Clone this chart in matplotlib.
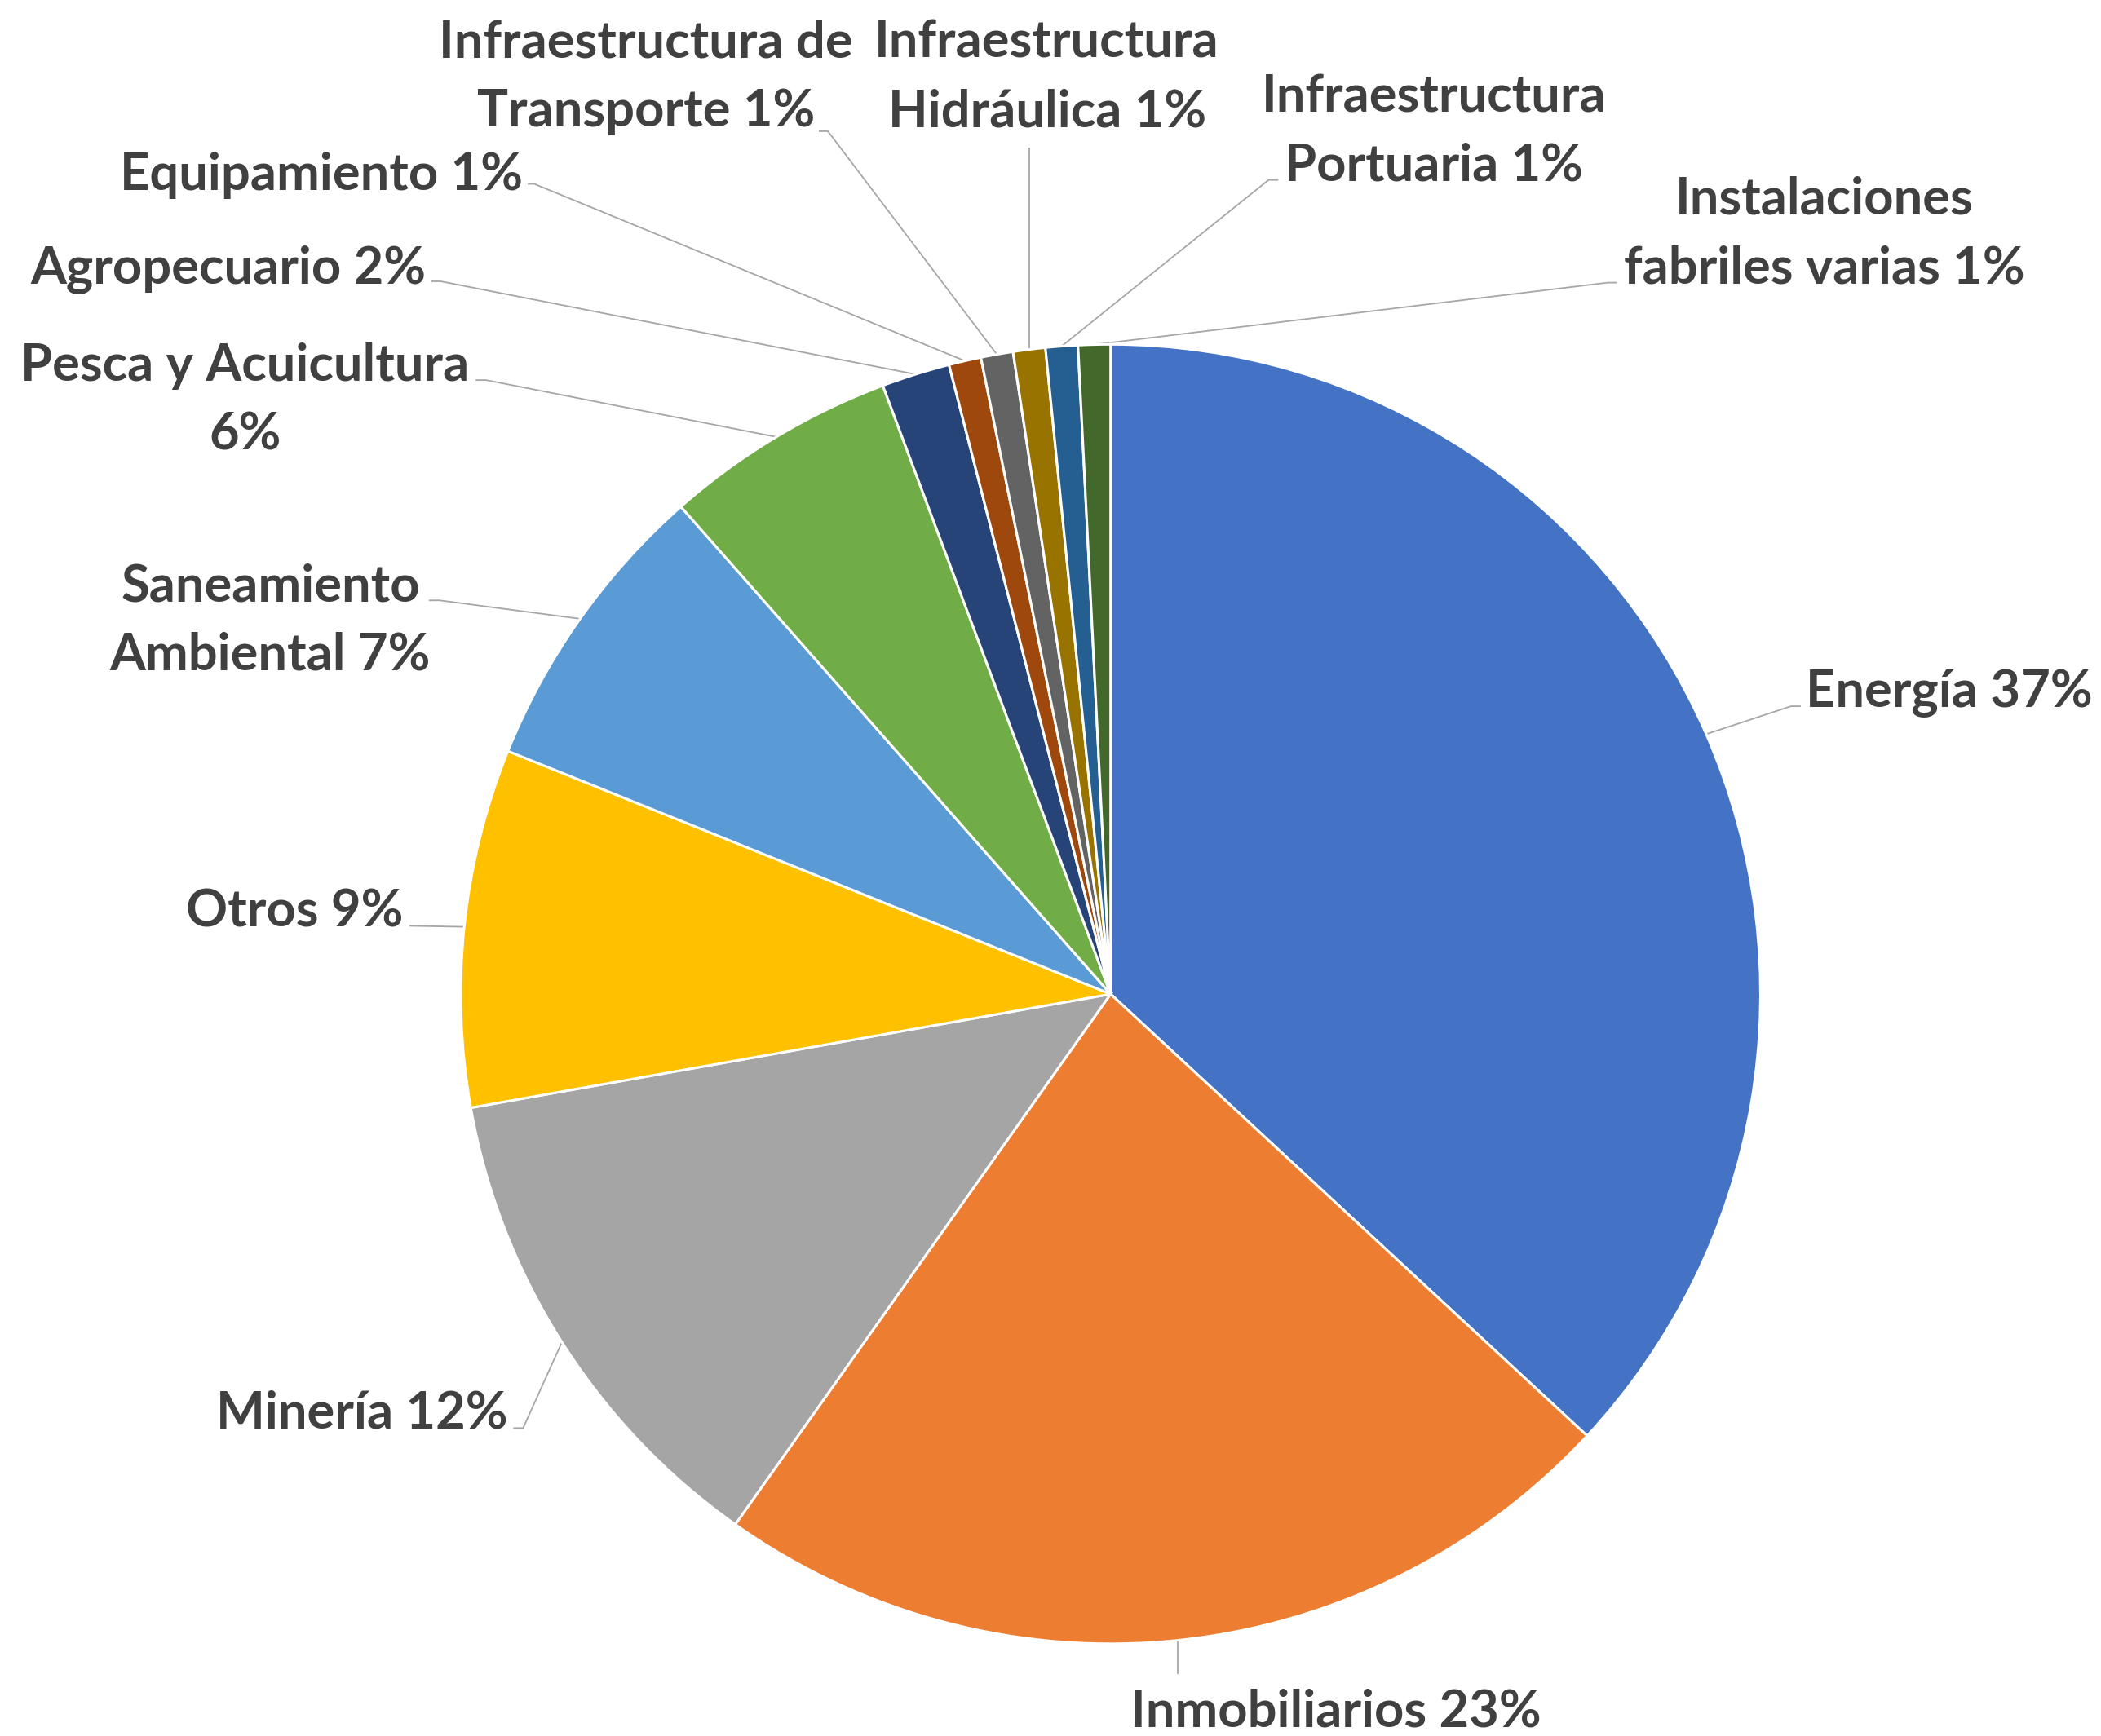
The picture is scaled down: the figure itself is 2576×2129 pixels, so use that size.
import numpy as np
import matplotlib
matplotlib.use("Agg")
import matplotlib.pyplot as plt

# ---------------- data ----------------
categories = ["Energía", "Inmobiliarios", "Minería", "Otros", "Saneamiento Ambiental",
              "Pesca y Acuicultura", "Agropecuario", "Equipamiento",
              "Infraestructura de Transporte", "Infraestructura Hidráulica",
              "Infraestructura Portuaria", "Instalaciones fabriles varias"]
values = [36.9, 22.9, 12.4, 8.9, 7.4, 5.8, 1.7, 0.8, 0.8, 0.8, 0.8, 0.8]
colors = ["#4472C4", "#ED7D31", "#A5A5A5", "#FFC000", "#5B9BD5", "#70AD47",
          "#264478", "#9E480E", "#636363", "#997300", "#255E91", "#43682B"]
# how each label is broken into lines (last line gets the percentage)
label_lines = [["Energía"], ["Inmobiliarios"], ["Minería"], ["Otros"],
               ["Saneamiento", "Ambiental"], ["Pesca y Acuicultura", ""],
               ["Agropecuario"], ["Equipamiento"],
               ["Infraestructura de", "Transporte"], ["Infraestructura", "Hidráulica"],
               ["Infraestructura", "Portuaria"], ["Instalaciones", "fabriles varias"]]

# ---------------- layout (pie radius = 1) ----------------
# (ha, x, baseline y of first line)
label_pos = [("left", 1.070, 0.442), ("center", 0.346, -1.128), ("right", -0.928, -0.668),
             ("right", -1.089, 0.104), ("center", -1.293, 0.605), ("center", -1.332, 0.944),
             ("right", -1.054, 1.095), ("right", -0.905, 1.2375), ("center", -0.715, 1.442),
             ("center", -0.098, 1.442), ("center", 0.497, 1.358), ("center", 1.098, 1.200)]
# leader (elbow, end)
leaders = [((1.047, 0.443), (1.062, 0.443)), (None, (None, -1.047)),
           ((-0.904, -0.668), (-0.919, -0.668)), (None, (-1.079, 0.105)),
           ((-1.033, 0.606), (-1.049, 0.606)), ((-0.961, 0.945), (-0.977, 0.945)),
           ((-1.031, 1.097), (-1.045, 1.097)), ((-0.887, 1.247), (-0.897, 1.247)),
           ((-0.435, 1.328), (-0.449, 1.328)), (None, (None, 1.303)),
           ((0.243, 1.253), (0.258, 1.253)), ((0.765, 1.095), (0.779, 1.095))]
line_step = 0.1066
FONT = ["Lato", "DejaVu Sans"]
TXT = "#404040"
LEAD = "#A6A6A6"
FS = 45.5

fig = plt.figure(figsize=(25.76, 21.29), dpi=100)
ax = fig.add_axes([0, 0, 1, 1])
wedges, _ = ax.pie(values, colors=colors, startangle=90, counterclock=False,
                   radius=1.0, center=(0, 0),
                   wedgeprops=dict(edgecolor="white", linewidth=2.2))

total = sum(values)
for w, val, lines, (ha, x, y0), (elbow, end) in zip(wedges, values, label_lines, label_pos, leaders):
    pct = "%d%%" % round(val / total * 100)
    lines = list(lines)
    if lines[-1] == "":
        lines[-1] = pct
    else:
        lines[-1] = lines[-1] + " " + pct
    for i, ln in enumerate(lines):
        ax.text(x, y0 - i * line_step, ln, ha=ha, va="baseline", fontsize=FS,
                fontweight="bold", color=TXT, family=FONT)
    mid = np.deg2rad((w.theta1 + w.theta2) / 2)
    sx, sy = np.cos(mid), np.sin(mid)
    ex = sx if end[0] is None else end[0]
    ey = end[1]
    pts = [(sx, sy)]
    if elbow is not None:
        pts.append(elbow)
    pts.append((ex, ey))
    xs, ys = zip(*pts)
    ax.plot(xs, ys, color=LEAD, lw=1.3, solid_capstyle="butt", zorder=0)

ax.set_xlim(-1.709, 1.524)
ax.set_ylim(-1.142, 1.530)
ax.set_aspect("auto")
ax.axis("off")
fig.savefig("out.png", dpi=100, facecolor="white")
